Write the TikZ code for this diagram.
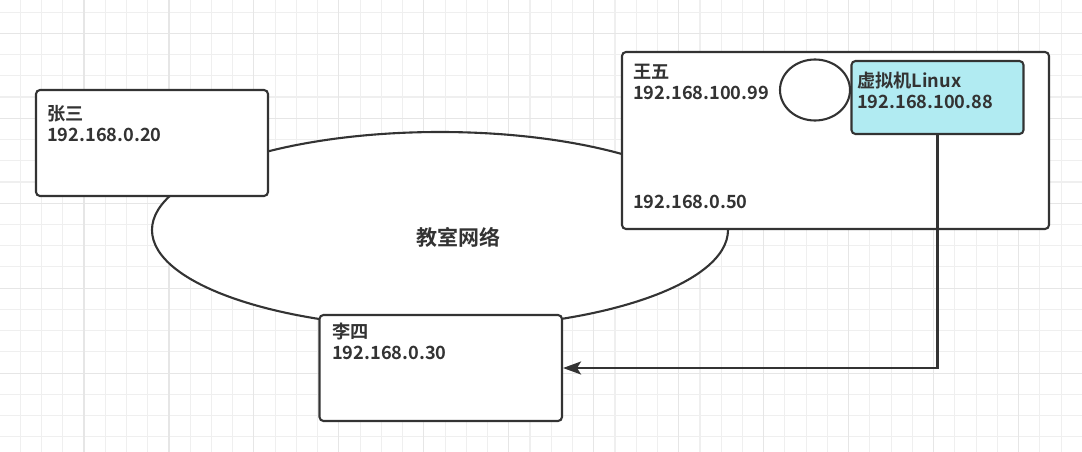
\documentclass[tikz,border=0pt]{standalone}
\usepackage{fontspec}
\setmainfont{Noto Sans CJK SC Bold}
\usetikzlibrary{arrows.meta,shapes.geometric}
\definecolor{ink}{HTML}{333333}
\definecolor{gridminor}{HTML}{EFEFEF}
\definecolor{gridmajor}{HTML}{E6E6E6}
\definecolor{vmfill}{RGB}{177,235,242}
\tikzset{
  box/.style={draw=ink, line width=2.1pt, rounded corners=4pt, fill=white, minimum width=#1, inner sep=0pt},
  lbl/.style={text=ink, font=\fontsize{18.2}{21}\selectfont, align=left, inner sep=0pt, anchor=west},
  conn/.style={draw=ink, line width=2.1pt}
}
\begin{document}
\begin{tikzpicture}[x=1pt,y=-1pt]
\useasboundingbox (0,0) rectangle (1082,452);
\fill[white] (0,0) rectangle (1082,452);
% grid
\foreach \k in {-3,...,46}{
  \draw[gridminor, line width=1.1pt] ({84+21.24*\k},0) -- ({84+21.24*\k},452);
}
\foreach \k in {-1,...,19}{
  \draw[gridminor, line width=1.1pt] (0,{33.3+21.24*\k}) -- (1082,{33.3+21.24*\k});
}
\foreach \k in {0,4,...,44}{
  \draw[gridmajor, line width=1.1pt] ({84+21.24*\k},0) -- ({84+21.24*\k},452);
}
\foreach \k in {0,4,...,16}{
  \draw[gridmajor, line width=1.1pt] (0,{33.3+21.24*\k}) -- (1082,{33.3+21.24*\k});
}
% network ellipse
\node[draw=ink, line width=2.1pt, fill=white, ellipse, minimum width=576pt, minimum height=196pt, inner sep=0pt] (net) at (440,230) {};
\node[text=ink, font=\fontsize{21}{25}\selectfont, inner sep=0pt] (netlbl) at (458,237.5) {教室网络};
% boxes
\node[box=232pt, minimum height=106pt] (zs) at (152,143) {};
\node[box=427pt, minimum height=177pt] (ww) at (835.5,140.5) {};
\node[box=242.5pt, minimum height=106pt] (ls) at (440.75,368) {};
\node[draw=ink, line width=2.1pt, ellipse, minimum width=70pt, minimum height=61pt, inner sep=0pt] (nic) at (815,90) {};
\node[box=172pt, minimum height=73pt, fill=vmfill] (vm) at (937.5,97.5) {};
% labels
\node[lbl] (zslbl) at (47,123.5) {张三\\192.168.0.20};
\node[lbl] (wwlbl) at (633,81.7) {王五\\192.168.100.99};
\node[lbl] (wwip) at (633,201.7) {192.168.0.50};
\node[lbl] (vmlbl) at (857,90) {虚拟机Linux\\192.168.100.88};
\node[lbl] (lslbl) at (332,341.5) {李四\\192.168.0.30};
% connector
\draw[conn, -{Stealth[length=18pt,width=13pt,inset=4pt]}] (vm.south) -- (vm.south |- ls.east) -- (ls.east);
\end{tikzpicture}
\end{document}
